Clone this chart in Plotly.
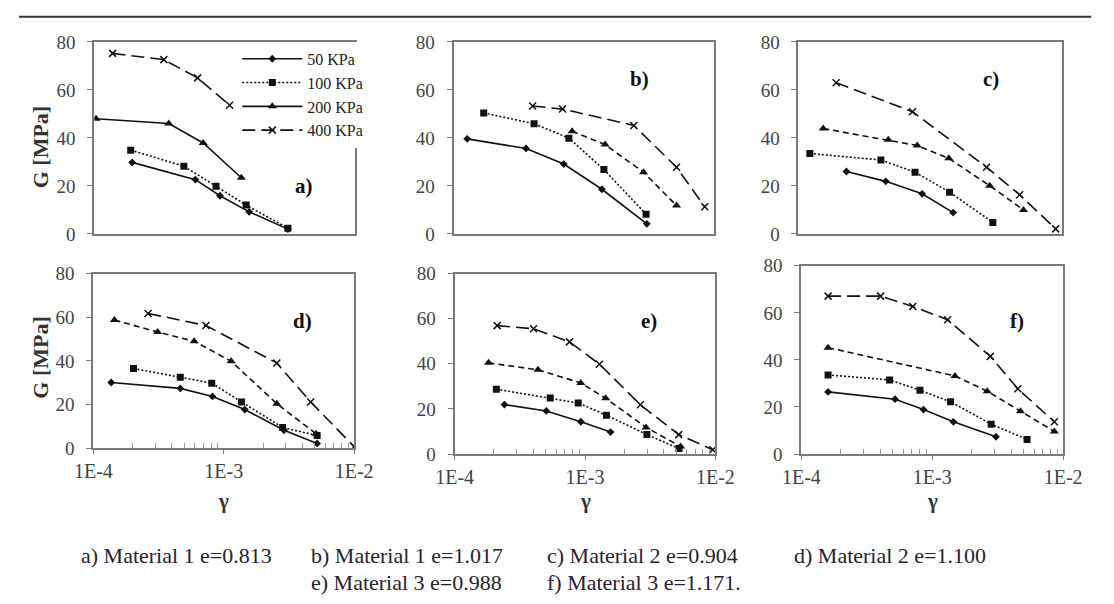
import plotly.graph_objects as go

W, H = 1114, 604

pressures = ["50 KPa", "100 KPa", "200 KPa", "400 KPa"]
panel_letters = ["a)", "b)", "c)", "d)", "e)", "f)"]
x_tick_vals = [1e-4, 1e-3, 1e-2]
x_tick_text = ["1E-4", "1E-3", "1E-2"]
x_minor_vals = [2e-4, 3e-4, 4e-4, 5e-4, 6e-4, 7e-4, 8e-4, 9e-4,
                2e-3, 3e-3, 4e-3, 5e-3, 6e-3, 7e-3, 8e-3, 9e-3]
y_tick_vals = [0, 20, 40, 60, 80]
caption_row1 = ["a) Material 1 e=0.813", "b) Material 1 e=1.017",
                "c) Material 2 e=0.904", "d) Material 2 e=1.100"]
caption_row2 = ["e) Material 3 e=0.988", "f) Material 3 e=1.171."]

# ---- Panel a ----
a_g50 = [1.95e-4, 5.96e-4, 9.2e-4, 1.54e-3, 3.05e-3]
a_G50 = [29.8, 22.6, 15.9, 9.2, 2.0]
a_g100 = [1.9e-4, 4.86e-4, 8.57e-4, 1.46e-3, 3.05e-3]
a_G100 = [34.9, 28.2, 19.9, 12.0, 2.4]
a_g200 = [1.03e-4, 3.72e-4, 6.84e-4, 1.34e-3]
a_G200 = [48.0, 46.0, 37.9, 23.4]
a_g400 = [1.38e-4, 3.41e-4, 6.2e-4, 1.09e-3]
a_G400 = [75.2, 72.6, 65.0, 53.6]
# ---- Panel b ----
b_g50 = [1.27e-4, 3.59e-4, 6.99e-4, 1.37e-3, 3.03e-3]
b_G50 = [39.6, 35.6, 29.1, 18.6, 4.2]
b_g100 = [1.7e-4, 4.14e-4, 7.65e-4, 1.42e-3, 2.99e-3]
b_G100 = [50.4, 45.9, 39.9, 26.8, 8.2]
b_g200 = [8.1e-4, 1.45e-3, 2.86e-3, 5.12e-3]
b_G200 = [42.8, 37.2, 25.7, 11.8]
b_g400 = [4.03e-4, 6.84e-4, 2.41e-3, 5.12e-3, 8.43e-3]
b_G400 = [53.3, 52.0, 45.2, 27.8, 11.3]
# ---- Panel c ----
c_g50 = [2.31e-4, 4.59e-4, 8.67e-4, 1.49e-3]
c_G50 = [26.0, 21.9, 16.7, 8.9]
c_g100 = [1.22e-4, 4.22e-4, 7.66e-4, 1.4e-3, 2.98e-3]
c_G100 = [33.5, 30.8, 25.7, 17.4, 4.8]
c_g200 = [1.54e-4, 4.8e-4, 7.96e-4, 1.38e-3, 2.82e-3, 5.09e-3]
c_G200 = [43.9, 39.2, 36.8, 31.5, 20.1, 10.0]
c_g400 = [1.93e-4, 7.32e-4, 2.67e-3, 4.76e-3, 8.93e-3]
c_G400 = [63.0, 50.9, 27.8, 16.3, 2.1]
# ---- Panel d ----
d_g50 = [1.37e-4, 4.64e-4, 8.19e-4, 1.45e-3, 2.9e-3, 5.2e-3]
d_G50 = [30.1, 27.4, 23.7, 17.7, 8.2, 2.2]
d_g100 = [2.03e-4, 4.64e-4, 8.09e-4, 1.37e-3, 2.83e-3, 5.2e-3]
d_G100 = [36.5, 32.5, 29.8, 21.2, 9.5, 5.8]
d_g200 = [1.45e-4, 3.11e-4, 5.93e-4, 1.14e-3, 2.55e-3, 5.1e-3]
d_G200 = [58.7, 53.2, 49.0, 39.8, 20.4, 6.6]
d_g400 = [2.63e-4, 7.3e-4, 2.55e-3, 4.64e-3, 1e-2]
d_G400 = [61.7, 56.2, 39.0, 21.2, 0.7]
# ---- Panel e ----
e_g50 = [2.41e-4, 5.05e-4, 9.29e-4, 1.57e-3]
e_G50 = [21.9, 19.1, 14.3, 9.7]
e_g100 = [2.09e-4, 5.41e-4, 8.87e-4, 1.46e-3, 2.98e-3, 5.26e-3]
e_G100 = [28.7, 24.8, 22.6, 17.2, 8.6, 2.4]
e_g200 = [1.82e-4, 4.36e-4, 9.29e-4, 1.44e-3, 2.94e-3, 5.41e-3]
e_G200 = [40.4, 37.3, 31.5, 24.7, 11.8, 3.3]
e_g400 = [2.12e-4, 4.03e-4, 7.6e-4, 1.29e-3, 2.66e-3, 5.23e-3, 9.55e-3]
e_G400 = [56.9, 55.5, 49.7, 39.8, 21.8, 8.6, 1.9]
# ---- Panel f ----
f_g50 = [1.6e-4, 5.2e-4, 8.57e-4, 1.45e-3, 3.07e-3]
f_G50 = [26.4, 23.3, 18.9, 13.7, 7.3]
f_g100 = [1.6e-4, 4.72e-4, 8.05e-4, 1.38e-3, 2.82e-3, 5.3e-3]
f_G100 = [33.6, 31.5, 27.1, 22.2, 12.7, 6.2]
f_g200 = [1.6e-4, 1.49e-3, 2.63e-3, 4.72e-3, 8.57e-3]
f_G200 = [45.2, 33.2, 26.7, 18.2, 9.6]
f_g400 = [1.6e-4, 4.03e-4, 7.1e-4, 1.31e-3, 2.78e-3, 4.51e-3, 8.57e-3]
f_G400 = [67.1, 67.1, 62.7, 57.1, 41.5, 27.7, 13.7]

panels = [
    [(a_g50, a_G50), (a_g100, a_G100), (a_g200, a_G200), (a_g400, a_G400)],
    [(b_g50, b_G50), (b_g100, b_G100), (b_g200, b_G200), (b_g400, b_G400)],
    [(c_g50, c_G50), (c_g100, c_G100), (c_g200, c_G200), (c_g400, c_G400)],
    [(d_g50, d_G50), (d_g100, d_G100), (d_g200, d_G200), (d_g400, d_G400)],
    [(e_g50, e_G50), (e_g100, e_G100), (e_g200, e_G200), (e_g400, e_G400)],
    [(f_g50, f_G50), (f_g100, f_G100), (f_g200, f_G200), (f_g400, f_G400)],
]

# pixel boxes of plot areas: (left, right, top, bottom)
boxes = [(78, 348, 33, 232), (450, 720, 33, 232), (807, 1080, 33, 232),
         (77, 347, 273, 454), (451, 721, 273, 460), (810, 1081, 265, 460)]
letter_pos = [(295, 182), (642, 72), (1006, 72), (294, 322), (652, 322), (1033, 322)]

FONT = "Liberation Serif, Times New Roman, serif"
INK = "#111111"
FRAME = "#7a7a7a"

line_dash = ["solid", "2px,2px", "6px,4px", "13px,6px"]
symbols = ["diamond", "square", "triangle-up", "x-thin"]
msizes = [6, 7, 8, 7]

fig = go.Figure()
for p, series in enumerate(panels):
    ax = "" if p == 0 else str(p + 1)
    for s, (gx, gy) in enumerate(series):
        dash = line_dash[s]
        if p == 0 and s == 2:
            dash = "solid"
        fig.add_trace(go.Scatter(
            x=gx, y=gy, mode="lines+markers", name=pressures[s],
            xaxis="x" + ax, yaxis="y" + ax,
            showlegend=(p == 0),
            line=dict(color=INK, width=1.6, dash=dash),
            marker=dict(symbol=symbols[s], size=msizes[s], color=INK,
                        line=dict(color=INK, width=1.5 if s == 3 else 0)),
        ))

layout = dict(
    width=W, height=H, margin=dict(l=0, r=0, t=0, b=0),
    paper_bgcolor="white", plot_bgcolor="white",
    font=dict(family=FONT, color="#333333", size=19),
    legend=dict(x=226 / W, y=1 - 33 / H, xanchor="left", yanchor="top",
                bgcolor="white", font=dict(family=FONT, size=16, color="#222"),
                tracegroupgap=0, itemwidth=60),
    showlegend=True,
)
for p, (l, r, t, b) in enumerate(boxes):
    ax = "" if p == 0 else str(p + 1)
    bottom_row = p >= 3
    xa = dict(type="log", range=[-4, -2], domain=[l / W, r / W],
              anchor="y" + ax, showgrid=False, zeroline=False,
              showline=True, linecolor=FRAME, linewidth=2, mirror=True,
              tickvals=x_tick_vals, ticktext=x_tick_text,
              showticklabels=bottom_row,
              ticks="outside" if bottom_row else "", ticklen=4,
              tickcolor=FRAME, tickfont=dict(family=FONT, size=20, color="#444"))
    if bottom_row:
        xa["minor"] = dict(tickmode="array", tickvals=x_minor_vals,
                           ticks="inside", ticklen=5, tickwidth=1,
                           tickcolor="#999999", showgrid=False)
    ya = dict(range=[0, 80], domain=[1 - b / H, 1 - t / H],
              anchor="x" + ax, showgrid=False, zeroline=False,
              showline=True, linecolor=FRAME, linewidth=2, mirror=True,
              tickvals=y_tick_vals, ticks="outside", ticklen=5,
              tickcolor=FRAME, ticklabelstandoff=8,
              tickfont=dict(family=FONT, size=19, color="#444"))
    layout["xaxis" + ax] = xa
    layout["yaxis" + ax] = ya
fig.update_layout(**layout)

ann = []
for p, (lx, ly) in enumerate(letter_pos):
    ann.append(dict(x=lx / W, y=1 - ly / H, xref="paper", yref="paper",
                    xanchor="center", yanchor="middle",
                    text="<b>%s</b>" % panel_letters[p], showarrow=False,
                    font=dict(family=FONT, size=21, color=INK)))
for ly in (142, 360):
    ann.append(dict(x=22 / W, y=1 - ly / H, xref="paper", yref="paper",
                    xanchor="center", yanchor="middle",
                    text="<b>G [MPa]</b>", textangle=-90, showarrow=False,
                    font=dict(family=FONT, size=22, color="#333")))
for p in (3, 4, 5):
    ax = str(p + 1)
    ann.append(dict(x=0.5, y=1 - 509 / H, xref="x%s domain" % ax, yref="paper",
                    xanchor="center", yanchor="middle",
                    text="<b>γ</b>", showarrow=False,
                    font=dict(family=FONT, size=21, color="#333")))
cap_x1 = [62, 300, 545, 800]
for txt, cx in zip(caption_row1, cap_x1):
    ann.append(dict(x=cx / W, y=1 - 565 / H, xref="paper", yref="paper",
                    xanchor="left", yanchor="middle", text=txt, showarrow=False,
                    font=dict(family=FONT, size=22, color="#2a2030")))
cap_x2 = [300, 545]
for txt, cx in zip(caption_row2, cap_x2):
    ann.append(dict(x=cx / W, y=1 - 593 / H, xref="paper", yref="paper",
                    xanchor="left", yanchor="middle", text=txt, showarrow=False,
                    font=dict(family=FONT, size=22, color="#2a2030")))
fig.update_layout(annotations=ann)

fig.add_shape(type="line", xref="paper", yref="paper",
              x0=0, x1=1110 / W, y0=1 - 7 / H, y1=1 - 7 / H,
              line=dict(color="#333333", width=2))

fig.write_html("out.html", config={"displayModeBar": False},
               post_script="document.body.style.margin='0px';")
